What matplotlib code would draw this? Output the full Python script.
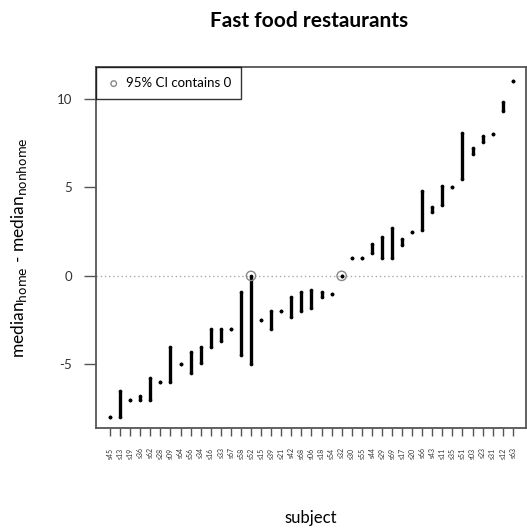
import matplotlib.pyplot as plt
import numpy as np

plt.rcParams['font.family'] = ['Lato', 'DejaVu Sans']

# subjects ordered by their median difference
subjects = ["s45", "s13", "s19", "s36", "s62", "s28", "s09", "s64", "s56", "s34",
            "s16", "s33", "s67", "s58", "s52", "s15", "s39", "s21", "s42", "s68",
            "s06", "s18", "s54", "s32", "s30", "s55", "s44", "s29", "s69", "s17",
            "s20", "s66", "s43", "s11", "s35", "s51", "s03", "s23", "s31", "s12", "s63"]

# lower / upper end of the interval for each subject
lower = [-8.0, -8.0, -7.0, -7.0, -7.0, -6.0, -6.0, -5.0, -5.5, -4.9,
         -4.0, -3.7, -3.0, -4.5, -5.0, -2.5, -3.0, -2.0, -2.3, -2.0,
         -1.8, -1.2, -1.0, 0.0, 1.0, 1.0, 1.3, 1.0, 1.0, 1.75,
         2.5, 2.6, 3.6, 4.0, 5.0, 5.5, 6.9, 7.55, 8.0, 9.3, 11.0]
upper = [-8.0, -6.5, -7.0, -6.8, -5.8, -6.0, -4.0, -5.0, -4.3, -4.0,
         -3.0, -3.0, -3.0, -0.9, 0.0, -2.5, -2.0, -2.0, -1.2, -0.9,
         -0.8, -0.9, -1.0, 0.0, 1.0, 1.0, 1.8, 2.2, 2.7, 2.1,
         2.5, 4.8, 3.9, 5.1, 5.0, 8.1, 7.25, 7.9, 8.0, 9.85, 11.0]

x = np.arange(1, len(subjects) + 1)
lower = np.array(lower)
upper = np.array(upper)
has_zero = (lower <= 0) & (upper >= 0)
span = upper > lower

fig = plt.figure(figsize=(5.27, 5.29), dpi=100)
ax = fig.add_axes([0.182, 0.191, 0.816, 0.682])

ax.axhline(0, color='#aaaaaa', lw=1.0, ls=(0, (1, 2)), zorder=1)

# interval bars, with round ends drawn as dots
ax.vlines(x[span], lower[span], upper[span], color='black', lw=2.4, zorder=3)
ax.scatter(np.r_[x, x], np.r_[lower, upper], s=7, color='black', zorder=3, linewidths=0)

ax.scatter(x[has_zero], np.zeros(has_zero.sum()), s=45, facecolors='none',
           edgecolors='#888888', linewidths=1.0, zorder=4, label='95% CI contains 0')

ax.set_xlim(-0.4, 42.3)
ax.set_ylim(-8.6, 11.8)
ax.set_xticks(x)
ax.set_xticklabels(subjects, rotation=90, fontsize=5, color='#333333')
ax.set_yticks([-5, 0, 5, 10])
ax.set_yticklabels(['-5', '0', '5', '10'], fontsize=9.5, color='#333333')
ax.tick_params(axis='y', length=9, width=1.0, color='#555555', pad=8)
ax.tick_params(axis='x', length=6, width=1.0, color='#555555', pad=8)

for s in ax.spines.values():
    s.set_color('#555555')
    s.set_linewidth(1.3)

ax.set_ylabel('median$_{\\mathrm{home}}$ - median$_{\\mathrm{nonhome}}$', fontsize=12.5, labelpad=20)
ax.set_xlabel('subject', fontsize=12, labelpad=37)
fig.suptitle('Fast food restaurants', fontsize=15, fontweight='bold', x=0.587, y=0.98)

leg = ax.legend(loc='upper left', bbox_to_anchor=(0, 1), borderaxespad=0, fancybox=False,
                edgecolor='black', fontsize=9.5, handletextpad=0.3, markerscale=0.6,
                borderpad=0.75, handlelength=1.2)
leg.get_frame().set_linewidth(1.0)

fig.savefig('out.png', dpi=100)
